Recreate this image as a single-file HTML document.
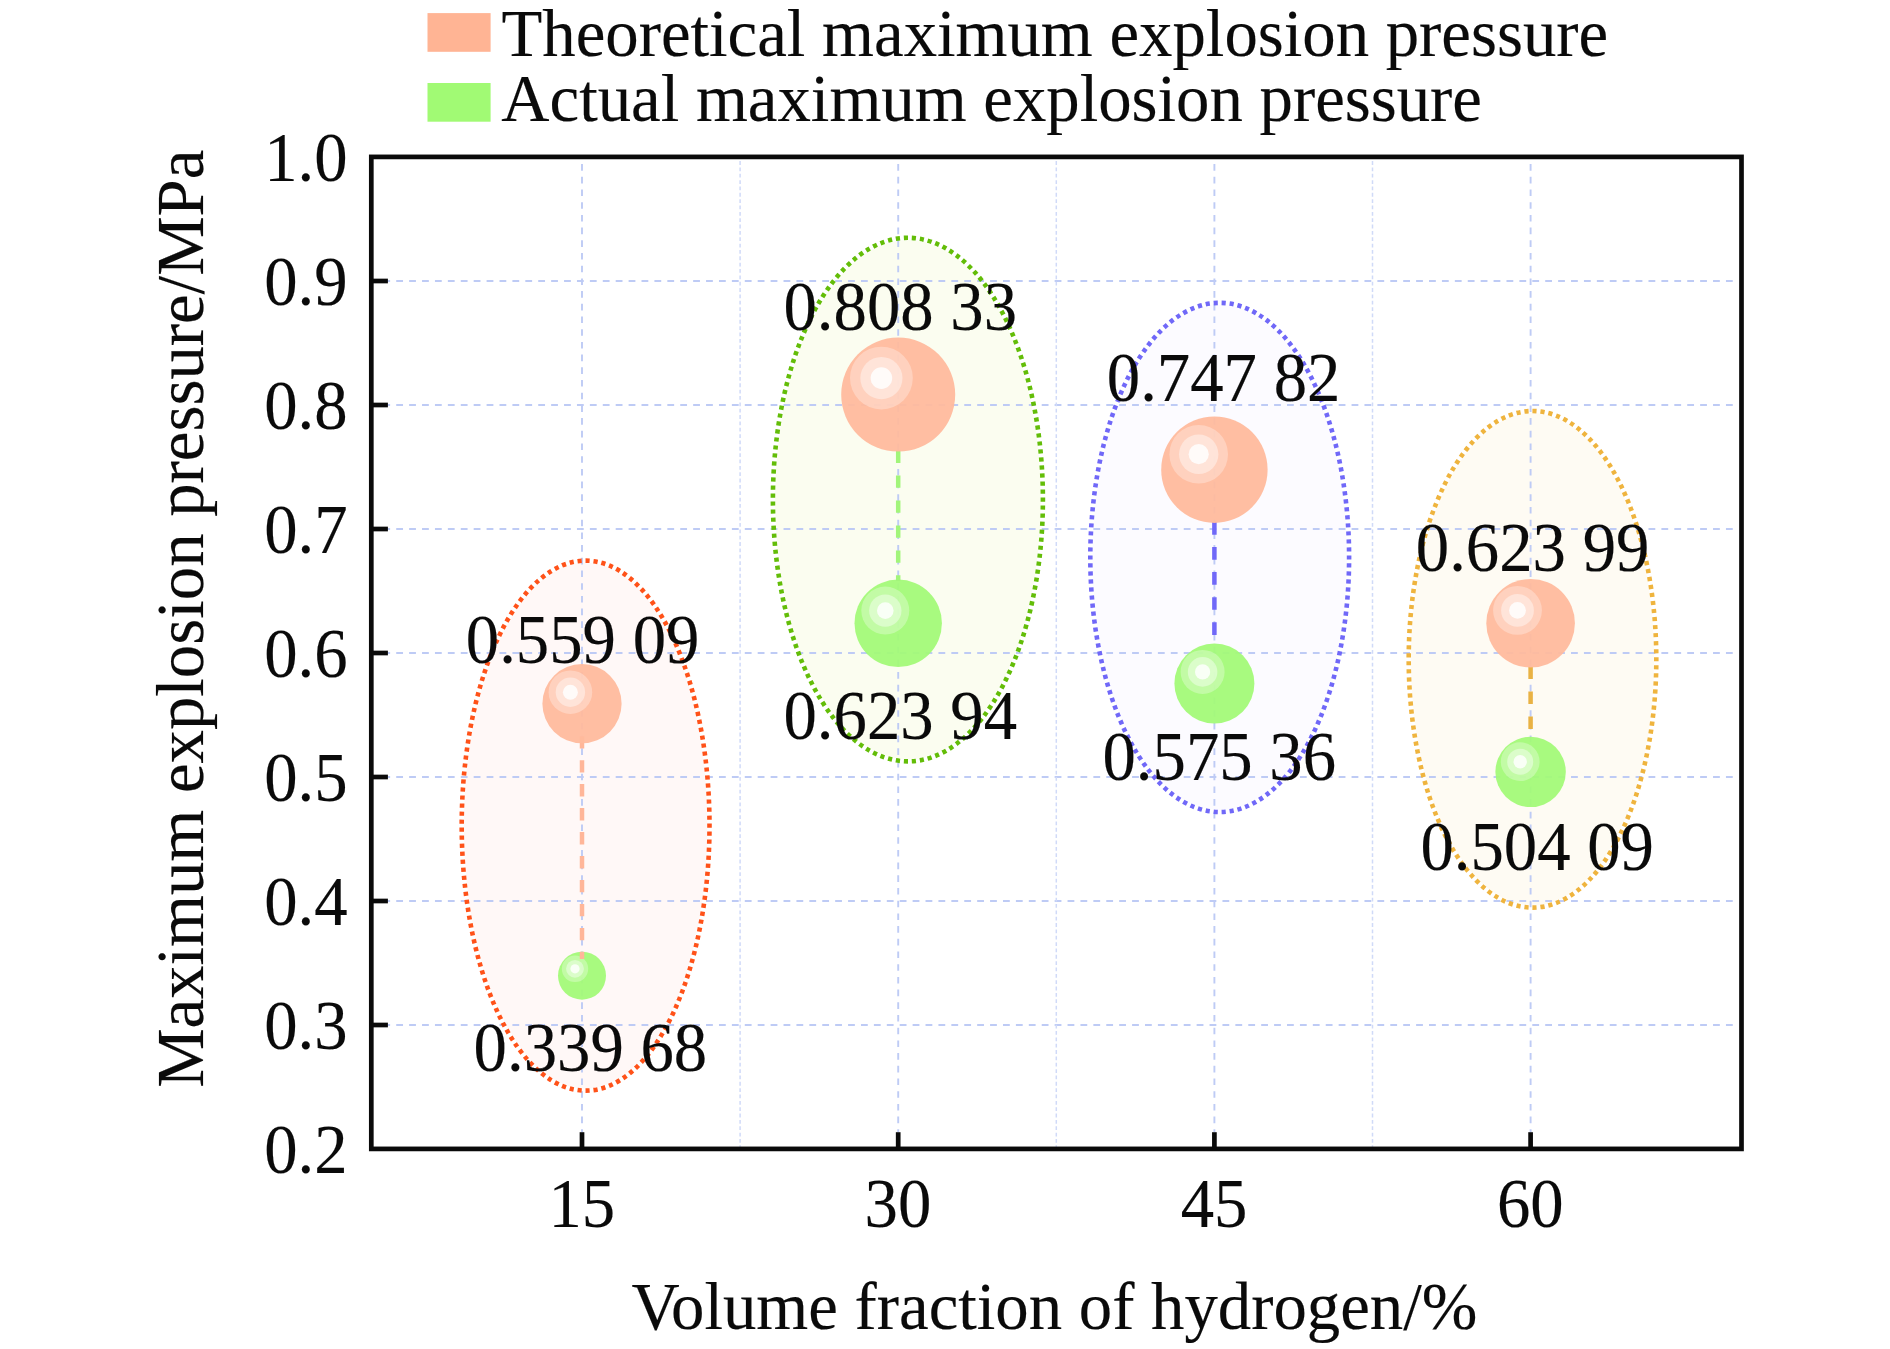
<!DOCTYPE html>
<html><head><meta charset="utf-8"><title>Chart</title>
<style>html,body{margin:0;padding:0;background:#fff;}body{width:1890px;height:1349px;overflow:hidden;}svg{display:block;}text{font-family:"Liberation Serif",serif;fill:#0a0a0a;stroke:#0a0a0a;stroke-width:0.15;}</style>
</head><body>
<svg width="1890" height="1349" viewBox="0 0 1890 1349">
<rect width="1890" height="1349" fill="#ffffff"/>
<ellipse cx="585.60" cy="825.65" rx="121.70" ry="262.80" fill="#fff8f7"/>
<ellipse cx="907.90" cy="499.60" rx="132.80" ry="259.60" fill="#fbfdf0"/>
<ellipse cx="1219.70" cy="557.45" rx="127.20" ry="252.40" fill="#fcfbff"/>
<ellipse cx="1532.50" cy="659.30" rx="121.60" ry="246.10" fill="#fefbf3"/>
<line x1="370.4" y1="1025.0" x2="1736.0" y2="1025.0" stroke="#becbf5" stroke-width="1.9" stroke-dasharray="6.8 6.11"/>
<line x1="370.4" y1="901.0" x2="1736.0" y2="901.0" stroke="#becbf5" stroke-width="1.9" stroke-dasharray="6.8 6.11"/>
<line x1="370.4" y1="777.0" x2="1736.0" y2="777.0" stroke="#becbf5" stroke-width="1.9" stroke-dasharray="6.8 6.11"/>
<line x1="370.4" y1="653.0" x2="1736.0" y2="653.0" stroke="#becbf5" stroke-width="1.9" stroke-dasharray="6.8 6.11"/>
<line x1="370.4" y1="529.0" x2="1736.0" y2="529.0" stroke="#becbf5" stroke-width="1.9" stroke-dasharray="6.8 6.11"/>
<line x1="370.4" y1="405.0" x2="1736.0" y2="405.0" stroke="#becbf5" stroke-width="1.9" stroke-dasharray="6.8 6.11"/>
<line x1="370.4" y1="281.0" x2="1736.0" y2="281.0" stroke="#becbf5" stroke-width="1.9" stroke-dasharray="6.8 6.11"/>
<line x1="582.0" y1="164.1" x2="582.0" y2="1132.0" stroke="#becbf5" stroke-width="1.9" stroke-dasharray="6.6 6.1"/>
<line x1="898.2" y1="164.1" x2="898.2" y2="1132.0" stroke="#becbf5" stroke-width="1.9" stroke-dasharray="6.6 6.1"/>
<line x1="1214.4" y1="164.1" x2="1214.4" y2="1132.0" stroke="#becbf5" stroke-width="1.9" stroke-dasharray="6.6 6.1"/>
<line x1="1530.6" y1="164.1" x2="1530.6" y2="1132.0" stroke="#becbf5" stroke-width="1.9" stroke-dasharray="6.6 6.1"/>
<line x1="740.1" y1="161.1" x2="740.1" y2="1147.0" stroke="#d0daf8" stroke-width="1.5" stroke-dasharray="3.8 2.55"/>
<line x1="1056.3" y1="161.1" x2="1056.3" y2="1147.0" stroke="#d0daf8" stroke-width="1.5" stroke-dasharray="3.8 2.55"/>
<line x1="1372.5" y1="161.1" x2="1372.5" y2="1147.0" stroke="#d0daf8" stroke-width="1.5" stroke-dasharray="3.8 2.55"/>
<ellipse cx="585.60" cy="825.65" rx="123.90" ry="265.00" fill="none" stroke="#ff5219" stroke-width="4.6" pathLength="15700" stroke-dasharray="52 48" stroke-dashoffset="26"/>
<ellipse cx="907.90" cy="499.60" rx="135.00" ry="261.80" fill="none" stroke="#63bd08" stroke-width="4.6" pathLength="15900" stroke-dasharray="52 48" stroke-dashoffset="26"/>
<ellipse cx="1219.70" cy="557.45" rx="129.40" ry="254.60" fill="none" stroke="#7068f8" stroke-width="4.6" pathLength="15400" stroke-dasharray="52 48" stroke-dashoffset="26"/>
<ellipse cx="1532.50" cy="659.30" rx="123.80" ry="248.30" fill="none" stroke="#efb43e" stroke-width="4.6" pathLength="14900" stroke-dasharray="52 48" stroke-dashoffset="26"/>
<circle cx="582.0" cy="975.7" r="24.0" fill="#a3fa77" fill-opacity="0.94"/>
<circle cx="575.0" cy="968.8" r="13.2" fill="#fff" fill-opacity="0.30"/>
<circle cx="575.0" cy="968.8" r="8.9" fill="#fff" fill-opacity="0.41"/>
<circle cx="575.0" cy="968.8" r="4.6" fill="#fff" fill-opacity="0.83"/>
<line x1="582.0" y1="736.2" x2="582.0" y2="959.1" stroke="#ffb699" stroke-width="4.5" stroke-dasharray="12.40 11.56"/>
<circle cx="582.0" cy="703.7" r="39.6" fill="#ffba9c" fill-opacity="0.94"/>
<circle cx="570.4" cy="692.2" r="21.8" fill="#fff" fill-opacity="0.30"/>
<circle cx="570.4" cy="692.2" r="14.7" fill="#fff" fill-opacity="0.41"/>
<circle cx="570.4" cy="692.2" r="7.5" fill="#fff" fill-opacity="0.83"/>
<circle cx="898.2" cy="623.3" r="43.7" fill="#a3fa77" fill-opacity="0.94"/>
<circle cx="885.3" cy="610.6" r="24.0" fill="#fff" fill-opacity="0.30"/>
<circle cx="885.3" cy="610.6" r="16.2" fill="#fff" fill-opacity="0.41"/>
<circle cx="885.3" cy="610.6" r="8.3" fill="#fff" fill-opacity="0.83"/>
<line x1="898.2" y1="450.5" x2="898.2" y2="581.0" stroke="#a2f57a" stroke-width="4.5" stroke-dasharray="12.40 12.57"/>
<circle cx="898.2" cy="394.6" r="57.0" fill="#ffba9c" fill-opacity="0.94"/>
<circle cx="881.4" cy="378.1" r="31.4" fill="#fff" fill-opacity="0.30"/>
<circle cx="881.4" cy="378.1" r="21.1" fill="#fff" fill-opacity="0.41"/>
<circle cx="881.4" cy="378.1" r="10.8" fill="#fff" fill-opacity="0.83"/>
<circle cx="1214.4" cy="683.5" r="40.0" fill="#a3fa77" fill-opacity="0.94"/>
<circle cx="1202.6" cy="671.9" r="22.0" fill="#fff" fill-opacity="0.30"/>
<circle cx="1202.6" cy="671.9" r="14.8" fill="#fff" fill-opacity="0.41"/>
<circle cx="1202.6" cy="671.9" r="7.6" fill="#fff" fill-opacity="0.83"/>
<line x1="1214.4" y1="522.0" x2="1214.4" y2="634.9" stroke="#7068f8" stroke-width="4.5" stroke-dasharray="12.70 12.35"/>
<circle cx="1214.4" cy="469.7" r="53.2" fill="#ffba9c" fill-opacity="0.94"/>
<circle cx="1198.7" cy="454.2" r="29.3" fill="#fff" fill-opacity="0.30"/>
<circle cx="1198.7" cy="454.2" r="19.7" fill="#fff" fill-opacity="0.41"/>
<circle cx="1198.7" cy="454.2" r="10.1" fill="#fff" fill-opacity="0.83"/>
<circle cx="1530.6" cy="771.9" r="35.2" fill="#a3fa77" fill-opacity="0.94"/>
<circle cx="1520.2" cy="761.7" r="19.4" fill="#fff" fill-opacity="0.30"/>
<circle cx="1520.2" cy="761.7" r="13.0" fill="#fff" fill-opacity="0.41"/>
<circle cx="1520.2" cy="761.7" r="6.7" fill="#fff" fill-opacity="0.83"/>
<line x1="1530.6" y1="666.7" x2="1530.6" y2="729.2" stroke="#e9b244" stroke-width="4.5" stroke-dasharray="12.40 12.50"/>
<circle cx="1530.6" cy="623.2" r="44.3" fill="#ffba9c" fill-opacity="0.94"/>
<circle cx="1517.5" cy="610.4" r="24.4" fill="#fff" fill-opacity="0.30"/>
<circle cx="1517.5" cy="610.4" r="16.4" fill="#fff" fill-opacity="0.41"/>
<circle cx="1517.5" cy="610.4" r="8.4" fill="#fff" fill-opacity="0.83"/>
<rect x="371.3" y="156.9" width="1370.2" height="992.0" fill="none" stroke="#0a0a0a" stroke-width="4.7"/>
<line x1="371.3" y1="1025.0" x2="387.9" y2="1025.0" stroke="#0a0a0a" stroke-width="4.7"/>
<line x1="371.3" y1="901.0" x2="387.9" y2="901.0" stroke="#0a0a0a" stroke-width="4.7"/>
<line x1="371.3" y1="777.0" x2="387.9" y2="777.0" stroke="#0a0a0a" stroke-width="4.7"/>
<line x1="371.3" y1="653.0" x2="387.9" y2="653.0" stroke="#0a0a0a" stroke-width="4.7"/>
<line x1="371.3" y1="529.0" x2="387.9" y2="529.0" stroke="#0a0a0a" stroke-width="4.7"/>
<line x1="371.3" y1="405.0" x2="387.9" y2="405.0" stroke="#0a0a0a" stroke-width="4.7"/>
<line x1="371.3" y1="281.0" x2="387.9" y2="281.0" stroke="#0a0a0a" stroke-width="4.7"/>
<line x1="582.0" y1="1149.0" x2="582.0" y2="1132.2" stroke="#0a0a0a" stroke-width="4.7"/>
<line x1="898.2" y1="1149.0" x2="898.2" y2="1132.2" stroke="#0a0a0a" stroke-width="4.7"/>
<line x1="1214.4" y1="1149.0" x2="1214.4" y2="1132.2" stroke="#0a0a0a" stroke-width="4.7"/>
<line x1="1530.6" y1="1149.0" x2="1530.6" y2="1132.2" stroke="#0a0a0a" stroke-width="4.7"/>
<text transform="translate(347.6,1173.2) scale(1,1.045)" font-size="66.75" text-anchor="end">0.2</text>
<text transform="translate(347.6,1049.2) scale(1,1.045)" font-size="66.75" text-anchor="end">0.3</text>
<text transform="translate(347.6,925.2) scale(1,1.045)" font-size="66.75" text-anchor="end">0.4</text>
<text transform="translate(347.6,801.2) scale(1,1.045)" font-size="66.75" text-anchor="end">0.5</text>
<text transform="translate(347.6,677.2) scale(1,1.045)" font-size="66.75" text-anchor="end">0.6</text>
<text transform="translate(347.6,553.2) scale(1,1.045)" font-size="66.75" text-anchor="end">0.7</text>
<text transform="translate(347.6,429.2) scale(1,1.045)" font-size="66.75" text-anchor="end">0.8</text>
<text transform="translate(347.6,305.2) scale(1,1.045)" font-size="66.75" text-anchor="end">0.9</text>
<text transform="translate(347.6,181.2) scale(1,1.045)" font-size="66.75" text-anchor="end">1.0</text>
<text transform="translate(581.8,1227.4) scale(1,1.045)" font-size="66.75" text-anchor="middle">15</text>
<text transform="translate(897.9,1227.4) scale(1,1.045)" font-size="66.75" text-anchor="middle">30</text>
<text transform="translate(1214.1,1227.4) scale(1,1.045)" font-size="66.75" text-anchor="middle">45</text>
<text transform="translate(1530.3,1227.4) scale(1,1.045)" font-size="66.75" text-anchor="middle">60</text>
<text transform="translate(465.8,662.9) scale(1,1.045)" font-size="66.75" text-anchor="start">0.559 09</text>
<text transform="translate(473.6,1070.7) scale(1,1.045)" font-size="66.75" text-anchor="start">0.339 68</text>
<text transform="translate(783.5,330.0) scale(1,1.045)" font-size="66.75" text-anchor="start">0.808 33</text>
<text transform="translate(783.5,739.0) scale(1,1.045)" font-size="66.75" text-anchor="start">0.623 94</text>
<text transform="translate(1106.8,401.4) scale(1,1.045)" font-size="66.75" text-anchor="start">0.747 82</text>
<text transform="translate(1102.5,780.4) scale(1,1.045)" font-size="66.75" text-anchor="start">0.575 36</text>
<text transform="translate(1415.8,570.9) scale(1,1.045)" font-size="66.75" text-anchor="start">0.623 99</text>
<text transform="translate(1420.4,870.4) scale(1,1.045)" font-size="66.75" text-anchor="start">0.504 09</text>
<text x="1054.4" y="1329" font-size="66.75" text-anchor="middle">Volume fraction of hydrogen/%</text>
<text transform="translate(202.6,618.8) rotate(-90)" font-size="66.75" text-anchor="middle">Maximum explosion pressure/MPa</text>
<rect x="427.5" y="13.1" width="63.1" height="38.7" fill="#ffb494"/>
<rect x="427.5" y="83" width="63.1" height="38.7" fill="#a1fa74"/>
<text x="501.5" y="56" font-size="66.75">Theoretical maximum explosion pressure</text>
<text x="501.3" y="120.6" font-size="66.75">Actual maximum explosion pressure</text>
</svg></body></html>
